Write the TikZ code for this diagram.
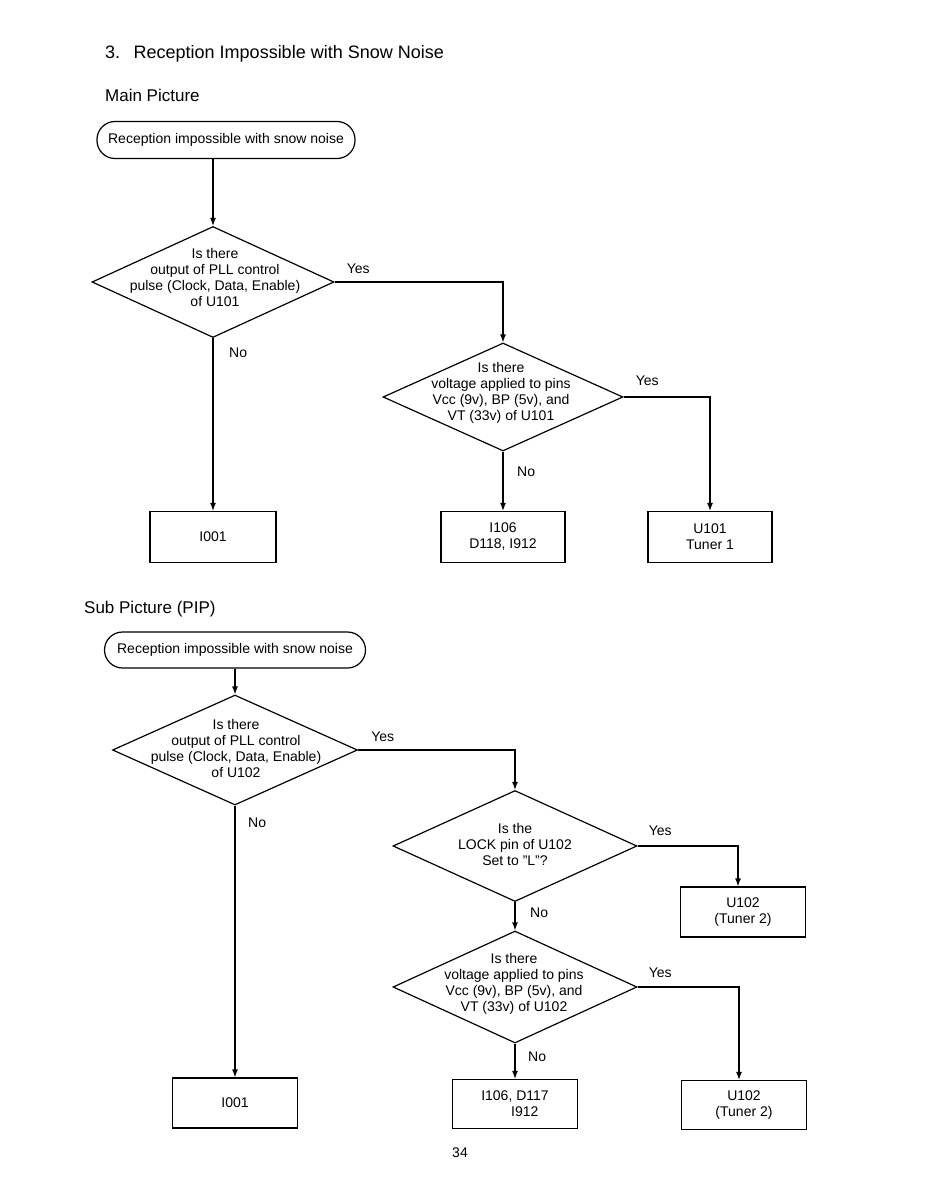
\documentclass[tikz,border=0pt]{standalone}
\usepackage{fontspec}
\setmainfont{Liberation Sans}
\usetikzlibrary{arrows.meta,positioning,shapes.geometric}
\newcommand{\bodyfont}{\fontsize{14}{16}\selectfont}
\tikzset{
  startnode/.style={draw,rounded corners=18pt,minimum width=258pt,minimum height=37pt,
    inner sep=2pt,line width=1.2pt,font=\bodyfont},
  qnode/.style={draw,diamond,minimum width=242pt,minimum height=111pt,inner sep=0pt,line width=1.2pt},
  qtext/.style={align=center,font=\bodyfont,inner sep=0pt},
  endnode/.style={draw,minimum width=125pt,minimum height=51pt,align=center,inner sep=2pt,
    line width=1.2pt,font=\bodyfont},
  flowline/.style={-{Latex[length=8pt,width=6pt]},line width=1.2pt},
  yesno/.style={font=\bodyfont,inner sep=0pt},
  headtext/.style={anchor=west,inner sep=0pt}
}

\begin{document}
\begin{tikzpicture}[x=1pt,y=-1pt]
  \useasboundingbox (0,0) rectangle (924,1193);
  \node[headtext,font=\fontsize{18}{22}\selectfont] (title) at (105,54) {3.\hspace{0.75em}Reception Impossible with Snow Noise};
  \node[headtext,font=\fontsize{17}{20}\selectfont] (mainhd) at (105,95) {Main Picture};
  \node[headtext,font=\fontsize{17}{20}\selectfont] (subhd) at (84,609) {Sub Picture (PIP)};

  \node[startnode] (t1) at (226,140) {Reception impossible with snow noise};
  \node[qnode] (q1) at (213,282) {};
  \node[qtext] (q1t) at (215,277) {Is there\\output of PLL control\\pulse (Clock, Data, Enable)\\of U101};
  \node[qnode,minimum width=240pt,minimum height=108pt] (q2) at (503,397) {};
  \node[qtext] (q2t) at (501,393) {Is there\\voltage applied to pins\\Vcc (9v), BP (5v), and\\VT (33v) of U101};
  \node[endnode,minimum width=126pt] (b1) at (213,537) {I001};
  \node[endnode,minimum width=124pt] (b2) at (503,537) {I106\\D118, I912};
  \node[endnode,minimum width=124pt] (b3) at (710,537) {U101\\Tuner 1};

  \node[startnode,minimum width=261pt,minimum height=36pt] (t2) at (235,650) {Reception impossible with snow noise};
  \node[qnode,minimum width=245pt,minimum height=110pt] (q3) at (235,750) {};
  \node[qtext] (q3t) at (236,748) {Is there\\output of PLL control\\pulse (Clock, Data, Enable)\\of U102};
  \node[qnode,minimum width=244pt] (q4) at (515,846) {};
  \node[qtext] (q4t) at (515,844) {Is the\\LOCK pin of U102\\Set to "L"?};
  \node[qnode,minimum width=244pt,minimum height=112pt] (q5) at (515,987) {};
  \node[qtext] (q5t) at (514,984) {Is there\\voltage applied to pins\\Vcc (9v), BP (5v), and\\VT (33v) of U102};
  \node[endnode,minimum height=50pt] (u1) at (743,912) {U102\\(Tuner 2)};
  \node[endnode,minimum height=50pt] (c1) at (235,1103) {I001};
  \node[endnode,minimum height=49pt] (c2) at (515,1104) {I106, D117\\\hspace*{1.4em}I912};
  \node[endnode,minimum height=49pt] (u2) at (744,1105) {U102\\(Tuner 2)};
  \node[inner sep=0pt,font=\bodyfont] (pagenum) at (460,1153) {34};

  \draw[flowline] (q1.north |- t1.south) -- (q1.north);
  \draw[flowline] (q1.east) -| (q2.north);
  \draw[flowline] (q1.south) -- (b1.north);
  \draw[flowline] (q2.east) -| (b3.north);
  \draw[flowline] (q2.south) -- (b2.north);
  \node[yesno,above right=8pt and 12pt of q1.east] (q1y) {Yes};
  \node[yesno,below right=10pt and 16pt of q1.south] (q1n) {No};
  \node[yesno,above right=11pt and 12pt of q2.east] (q2y) {Yes};
  \node[yesno,below right=15pt and 14pt of q2.south] (q2n) {No};

  \draw[flowline] (q3.north |- t2.south) -- (q3.north);
  \draw[flowline] (q3.east) -| (q4.north);
  \draw[flowline] (q3.south) -- (c1.north);
  \draw[flowline] (q4.east) -| ([xshift=-5pt]u1.north);
  \draw[flowline] (q4.south) -- (q5.north);
  \draw[flowline] (q5.east) -| ([xshift=-5pt]u2.north);
  \draw[flowline] (q5.south) -- (c2.north);
  \node[yesno,above right=8pt and 13pt of q3.east] (q3y) {Yes};
  \node[yesno,below right=12pt and 13pt of q3.south] (q3n) {No};
  \node[yesno,above right=10pt and 11pt of q4.east] (q4y) {Yes};
  \node[yesno,below right=6pt and 15pt of q4.south] (q4n) {No};
  \node[yesno,above right=9pt and 11pt of q5.east] (q5y) {Yes};
  \node[yesno,below right=8pt and 13pt of q5.south] (q5n) {No};
\end{tikzpicture}
\end{document}
